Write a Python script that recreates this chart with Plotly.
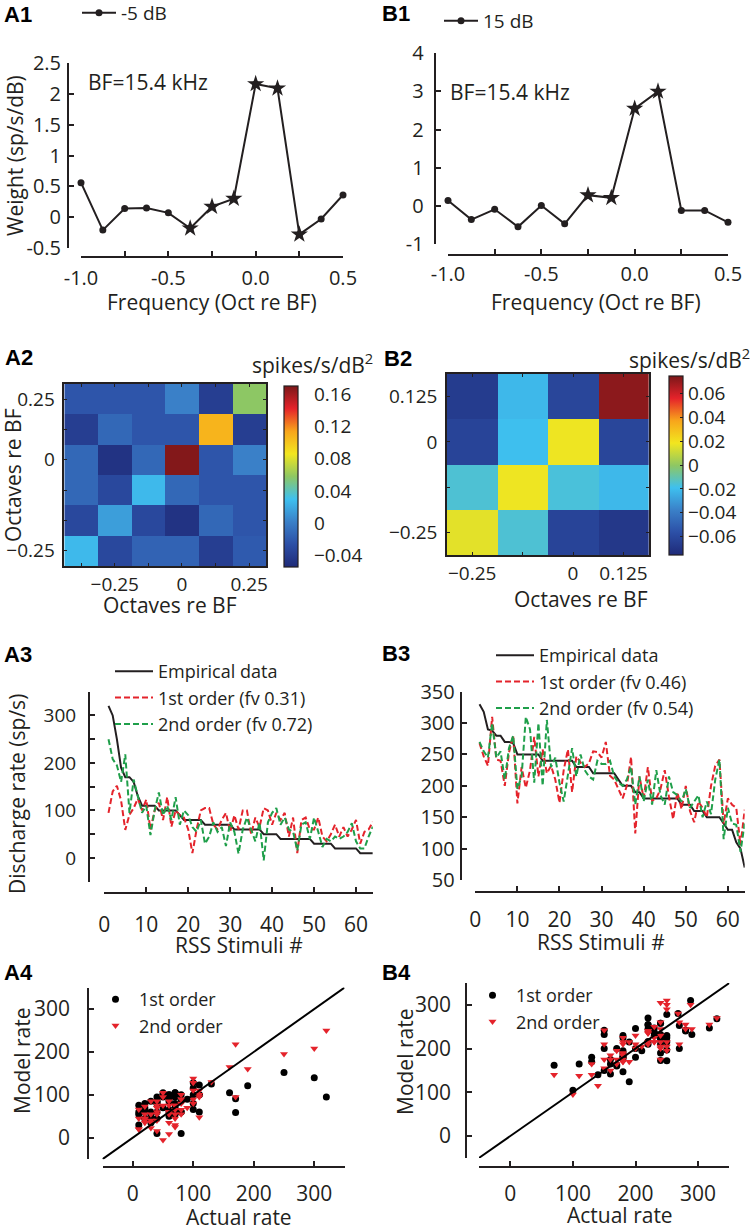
import plotly.graph_objects as go

W, H = 756, 1232
FONT = "Open Sans"
INK = "#231f20"
RED = "#e4232b"
GREEN = "#1f9f4a"

# A1 / B1: first-order spectral weights
oct_re_bf = [-1.0, -0.875, -0.75, -0.625, -0.5, -0.375, -0.25, -0.125, 0.0, 0.125, 0.25, 0.375, 0.5]
a1_weight = [0.56, -0.21, 0.14, 0.15, 0.07, -0.18, 0.17, 0.30, 2.16, 2.09, -0.28, -0.03, 0.36]
a1_star = [5, 6, 7, 8, 9, 10]          # significant weights
b1_weight = [0.14, -0.36, -0.09, -0.55, 0.01, -0.47, 0.28, 0.21, 2.55, 3.0, -0.12, -0.12, -0.43]
b1_star = [6, 7, 8, 9]

# A2 / B2: second-order weights (rows listed top to bottom)
a2_x = [-0.375, -0.25, -0.125, 0.0, 0.125, 0.25]
a2_y = [0.25, 0.125, 0.0, -0.125, -0.25, -0.375]
a2_z = [
    [-0.023, -0.023, -0.023, 0.002, -0.039, 0.058],
    [-0.039, -0.012, -0.023, -0.023, 0.108, -0.039],
    [-0.012, -0.048, -0.012, 0.169, -0.023, 0.002],
    [-0.012, -0.032, 0.027, -0.012, -0.023, -0.023],
    [-0.032, 0.015, -0.032, -0.048, -0.012, -0.023],
    [0.027, -0.032, -0.015, -0.015, -0.039, -0.020],
]
b2_x = [-0.25, -0.125, 0.0, 0.125]
b2_y = [0.125, 0.0, -0.125, -0.25]
b2_z = [
    [-0.066, -0.021, -0.061, 0.072],
    [-0.062, -0.019, 0.018, -0.061],
    [-0.015, 0.018, -0.016, -0.021],
    [0.016, -0.015, -0.062, -0.068],
]

# A3 / B3: rates for the 64 RSS stimuli (sorted by empirical rate)
stim = list(range(1, 65))
a3_emp = [320, 300, 250, 190, 170, 170, 160, 130,
          110, 110, 110, 110,
          100, 100, 100, 100, 100,
          90,
          80, 80, 80, 80, 80,
          70, 70, 70, 70, 70, 70, 70,
          60, 60, 60, 60, 60, 60, 60,
          50, 50, 50, 50,
          40, 40, 40, 40, 40, 40, 40, 40,
          30, 30, 30, 30, 30,
          20, 20, 20, 20, 20, 20,
          10, 10, 10, 10]
a3_first = [95, 140, 152, 121, 59, 91, 105, 125, 100, 123,
            60, 100, 116, 80, 128, 66, 100, 90, 85, 60,
            10, 60, 100, 105, 105, 70, 60, 80, 95, 55,
            90, 60, 100, 100, 50, 85, 65, 105, 100, 70,
            95, 80, 95, 45, 85, 10, 80, 85, 60, 60,
            85, 45, 35, 50, 70, 45, 65, 45, 60, 80,
            30, 55, 60, 76]
a3_second = [250, 208, 195, 160, 218, 95, 165, 130, 95, 110,
             48, 100, 138, 90, 110, 80, 128, 70, 100, 90,
             65, 55, 80, 30, 45, 75, 55, 65, 25, 75,
             55, 9, 60, 85, 60, 35, 75, -5, 75, 95,
             105, 70, 85, 60, 55, 16, 70, 75, 40, 85,
             55, 23, 40, 35, 45, 40, 45, 55, 73, 35,
             20, 20, 45, 66]
b3_emp = [330, 318, 290, 288, 280, 280, 270, 270, 268,
          250, 250, 250, 250, 250, 250,
          240, 240, 240, 240, 240, 240, 240, 240,
          230, 230, 230, 230,
          220, 220, 220, 220, 220, 220,
          210,
          200, 200, 200, 190, 190,
          180, 180, 180, 180, 180, 180, 180, 180, 180,
          170, 170, 170,
          160, 160, 160,
          150, 150, 150, 150,
          140, 130, 130, 110, 100, 70]
b3_first = [268, 247, 232, 310, 242, 240, 200, 253, 280, 172,
            230, 197, 225, 278, 215, 258, 220, 232, 210, 173,
            225, 258, 190, 247, 237, 230, 236, 255, 254, 245,
            270, 216, 210, 195, 180, 200, 246, 124, 215, 180,
            230, 176, 180, 195, 225, 183, 147, 190, 163, 200,
            160, 142, 175, 165, 150, 200, 232, 242, 140, 180,
            170, 165, 105, 162]
b3_second = [270, 255, 245, 300, 245, 255, 210, 260, 280, 195,
             215, 310, 290, 205, 300, 200, 305, 230, 245, 205,
             175, 215, 260, 215, 250, 225, 215, 210, 240, 235,
             235, 240, 215, 205, 200, 210, 230, 170, 215, 175,
             210, 170, 225, 185, 170, 215, 190, 185, 175, 195,
             165, 175, 185, 150, 175, 155, 210, 242, 115, 165,
             140, 138, 95, 140]
unity = [-50, 350]


def hx(px):
    return px / W


def vy(py):
    return 1 - py / H


def tf(size):
    return dict(family=FONT, size=size, color=INK)


def free_x(left, right, line_y, rng, vals, text, size=20, standoff=6):
    return dict(domain=[hx(left), hx(right)], range=rng, anchor="free", position=vy(line_y),
                showline=True, linewidth=2, linecolor=INK, ticks="inside", ticklen=5,
                tickwidth=1.5, tickcolor=INK, tickvals=vals, ticktext=text, tickfont=tf(size),
                ticklabelstandoff=standoff, showgrid=False, zeroline=False, fixedrange=True,
                automargin=False)


def free_y(bottom, top, line_x, rng, vals, text, size=20, standoff=3):
    return dict(domain=[vy(bottom), vy(top)], range=rng, anchor="free", position=hx(line_x),
                showline=True, linewidth=2, linecolor=INK, ticks="inside", ticklen=5,
                tickwidth=1.5, tickcolor=INK, tickvals=vals, ticktext=text, tickfont=tf(size),
                ticklabelstandoff=standoff, showgrid=False, zeroline=False, fixedrange=True,
                automargin=False)


def box_axis(lo, hi, rng, vals, text, anchor, horizontal):
    # lo/hi: left/right pixel for x, bottom/top pixel for y
    dom = [hx(lo), hx(hi)] if horizontal else [vy(lo), vy(hi)]
    return dict(domain=dom, range=rng, anchor=anchor, showline=True, mirror="ticks",
                linewidth=1.5, linecolor=INK, ticks="inside", ticklen=3, tickcolor=INK,
                tickvals=vals, ticktext=text, tickfont=tf(19), ticklabelstandoff=0 if horizontal else 4,
                showgrid=False, zeroline=False, fixedrange=True, automargin=False)


JET = [[0.0, "#1f2a78"], [0.125, "#2c4fa6"], [0.25, "#3a80c8"], [0.375, "#3ec0ef"],
       [0.5, "#8ec763"], [0.625, "#f2e61f"], [0.75, "#f8a51b"], [0.875, "#e5232a"],
       [1.0, "#7b1719"]]

fig = go.Figure()

# A1 / B1
for xa, ya, w, stars, name, leg in [("x", "y", a1_weight, a1_star, "-5 dB", "legend"),
                                    ("x2", "y2", b1_weight, b1_star, "15 dB", "legend2")]:
    fig.add_trace(go.Scatter(x=oct_re_bf, y=w, mode="lines+markers", name=name,
                             line=dict(color=INK, width=2), marker=dict(size=7, color=INK),
                             xaxis=xa, yaxis=ya, legend=leg, cliponaxis=False))
    fig.add_trace(go.Scatter(x=[oct_re_bf[i] for i in stars], y=[w[i] for i in stars],
                             mode="markers", marker=dict(symbol="star", size=13, color=INK),
                             xaxis=xa, yaxis=ya, showlegend=False, cliponaxis=False))

# A2 / B2 heatmaps
fig.add_trace(go.Heatmap(x=a2_x, y=a2_y, z=a2_z, colorscale=JET, zmin=-0.0546, zmax=0.171,
                         xaxis="x3", yaxis="y3",
                         colorbar=dict(x=hx(284), xanchor="left", xpad=0, ypad=0,
                                       y=vy(476.3), yanchor="middle", lenmode="pixels", len=180.7,
                                       thicknessmode="pixels", thickness=14.3,
                                       outlinewidth=1.2, outlinecolor=INK,
                                       tickvals=[-0.04, 0, 0.04, 0.08, 0.12, 0.16],
                                       ticktext=["\u22120.04", "0", "0.04", "0.08", "0.12", "0.16"],
                                       ticks="outside", ticklen=12, tickcolor="rgba(0,0,0,0)",
                                       tickfont=tf(19))))
fig.add_trace(go.Heatmap(x=b2_x, y=b2_y, z=b2_z, colorscale=JET, zmin=-0.075, zmax=0.075,
                         xaxis="x4", yaxis="y4",
                         colorbar=dict(x=hx(669), xanchor="left", xpad=0, ypad=0,
                                       y=vy(465), yanchor="middle", lenmode="pixels", len=178.6,
                                       thicknessmode="pixels", thickness=14,
                                       outlinewidth=1.2, outlinecolor=INK,
                                       tickvals=[-0.06, -0.04, -0.02, 0, 0.02, 0.04, 0.06],
                                       ticktext=["\u22120.06", "\u22120.04", "\u22120.02", "0",
                                                 "0.02", "0.04", "0.06"],
                                       ticks="inside", ticklen=3, tickcolor=INK,
                                       tickfont=tf(19))))

# A3 / B3 discharge rates
for xa, ya, emp, first, second, fv1, fv2, leg in [
        ("x5", "y5", a3_emp, a3_first, a3_second, "0.31", "0.72", "legend3"),
        ("x6", "y6", b3_emp, b3_first, b3_second, "0.46", "0.54", "legend4")]:
    fig.add_trace(go.Scatter(x=stim, y=emp, mode="lines", name="Empirical data",
                             line=dict(color=INK, width=2), xaxis=xa, yaxis=ya, legend=leg))
    fig.add_trace(go.Scatter(x=stim, y=first, mode="lines", name=f"1st order (fv {fv1})",
                             line=dict(color=RED, width=2, dash="6px,3px"),
                             xaxis=xa, yaxis=ya, legend=leg))
    fig.add_trace(go.Scatter(x=stim, y=second, mode="lines", name=f"2nd order (fv {fv2})",
                             line=dict(color=GREEN, width=2, dash="6px,3px"),
                             xaxis=xa, yaxis=ya, legend=leg))

# A4 / B4 model vs actual
for xa, ya, emp, first, second, leg in [("x7", "y7", a3_emp, a3_first, a3_second, "legend5"),
                                        ("x8", "y8", b3_emp, b3_first, b3_second, "legend6")]:
    fig.add_trace(go.Scatter(x=emp, y=first, mode="markers", name="1st order",
                             marker=dict(size=7, color="black"), xaxis=xa, yaxis=ya,
                             legend=leg, cliponaxis=False))
    fig.add_trace(go.Scatter(x=emp, y=second, mode="markers", name="2nd order",
                             marker=dict(size=7, color=RED, symbol="triangle-down"),
                             xaxis=xa, yaxis=ya, legend=leg, cliponaxis=False))
    fig.add_trace(go.Scatter(x=unity, y=unity, mode="lines", line=dict(color="black", width=2),
                             xaxis=xa, yaxis=ya, showlegend=False))

half = ["-1.0", "", "-0.5", "", "0.0", "", "0.5"]
quarters = [-1.0, -0.75, -0.5, -0.25, 0.0, 0.25, 0.5]
r50 = list(range(-50, 351, 50))
h100 = [str(v) if v % 100 == 0 and v >= 0 else "" for v in r50]
stim_ticks = list(range(0, 61, 10))
rate_ticks = [0, 100, 200, 300]


def legend(x, y, size=18, itemwidth=30):
    return dict(x=hx(x), y=vy(y), xanchor="left", yanchor="top", bgcolor="rgba(0,0,0,0)",
                borderwidth=0, font=tf(size), itemwidth=itemwidth, tracegroupgap=0)


fig.update_layout(
    template="none",
    width=W, height=H, margin=dict(l=0, r=0, t=0, b=0, autoexpand=False), autosize=False,
    paper_bgcolor="white", plot_bgcolor="white", font=tf(20),
    xaxis=free_x(81, 343, 257, [-1, 0.5], quarters, half, standoff=3),
    yaxis=free_y(248, 63, 68, [-0.5, 2.5], [-0.5, 0, 0.5, 1, 1.5, 2, 2.5],
                 ["-0.5", "0", "0.5", "1", "1.5", "2", "2.5"], standoff=2),
    xaxis2=free_x(448, 728, 255, [-1, 0.5], quarters, half, standoff=1),
    yaxis2=free_y(244, 53.3, 434.7, [-1, 4], [-1, 0, 1, 2, 3, 4],
                  ["-1", "0", "1", "2", "3", "4"], standoff=6),
    xaxis3=box_axis(64.3, 266, [-0.4375, 0.3125], a2_x, ["", "\u22120.25", "", "0", "", "0.25"], "y3", True),
    yaxis3=box_axis(566, 384, [-0.4375, 0.3125], a2_y, ["0.25", "", "0", "", "", "\u22120.25"], "x3", False),
    xaxis4=box_axis(447, 648.7, [-0.3125, 0.1875], b2_x, ["\u22120.25", "", "0", "0.125"], "y4", True),
    yaxis4=box_axis(555, 374, [-0.3125, 0.1875], b2_y, ["0.125", "0", "", "\u22120.25"], "x4", False),
    xaxis5=free_x(104.3, 372.8, 892.7, [0, 64], stim_ticks, [str(v) for v in stim_ticks], size=21, standoff=13),
    yaxis5=free_y(881.7, 691.7, 89, [-50, 350], r50, h100, size=19, standoff=8),
    xaxis6=free_x(475.3, 744.7, 891.7, [0, 64], stim_ticks, [str(v) for v in stim_ticks], size=21, standoff=9),
    yaxis6=free_y(880, 691.7, 460.7, [50, 350], list(range(50, 351, 50)),
                  [str(v) for v in range(50, 351, 50)], size=20, standoff=1),
    xaxis7=free_x(102.5, 344.5, 1166.7, [-50, 350], rate_ticks, [str(v) for v in rate_ticks], size=21, standoff=8),
    yaxis7=free_y(1159.2, 987.6, 88.3, [-50, 350], rate_ticks, [str(v) for v in rate_ticks], size=21, standoff=13),
    xaxis8=free_x(479, 729.4, 1166.7, [-50, 350], rate_ticks, [str(v) for v in rate_ticks], size=21, standoff=8),
    yaxis8=free_y(1157.9, 983, 466.3, [-50, 350], rate_ticks, [str(v) for v in rate_ticks], size=21, standoff=10),
    legend=legend(77, -6, size=19, itemwidth=34),
    legend2=legend(439, 2, size=19, itemwidth=34),
    legend3=legend(110, 653, itemwidth=38),
    legend4=legend(491, 637, itemwidth=38),
    legend5=legend(92, 981, itemwidth=37),
    legend6=legend(469, 977, itemwidth=37),
)

panels = [("A1", 2, 15), ("B1", 380, 14), ("A2", 3, 357), ("B2", 382, 358),
          ("A3", 2, 655), ("B3", 380, 653), ("A4", 2, 972), ("B4", 380, 972)]
for text, x, y in panels:
    fig.add_annotation(text=f"<b>{text}</b>", x=hx(x), y=vy(y), xref="paper", yref="paper",
                       xanchor="left", yanchor="middle", showarrow=False,
                       font=dict(family="Liberation Sans", size=22, color="black"))

labels = [
    ("Weight (sp/s/dB)", 15, 156, -90), ("Frequency (Oct re BF)", 212, 302, 0),
    ("Frequency (Oct re BF)", 596, 302, 0),
    ("spikes/s/dB<sup>2</sup>", 312, 363, 0), ("spikes/s/dB<sup>2</sup>", 689, 358, 0),
    ("Octaves re BF", 13, 475, -90), ("Octaves re BF", 170, 605, 0), ("Octaves re BF", 581, 599, 0),
    ("Discharge rate (sp/s)", 17, 794, -90), ("RSS Stimuli #", 239, 945, 0),
    ("RSS Stimuli #", 601, 942, 0),
    ("Model rate", 22, 1061, -90), ("Actual rate", 239, 1217, 0),
    ("Model rate", 405, 1062, -90), ("Actual rate", 620, 1215, 0),
]
for text, x, y, ang in labels:
    fig.add_annotation(text=text, x=hx(x), y=vy(y), xref="paper", yref="paper",
                       xanchor="center", yanchor="middle", showarrow=False, textangle=ang,
                       font=tf(21))

for x, y in [(86, 82), (448, 92)]:
    fig.add_annotation(text="BF=15.4 kHz", x=hx(x), y=vy(y), xref="paper", yref="paper",
                       xanchor="left", yanchor="middle", showarrow=False, font=tf(21))

# page body has a default 8px margin; drop it so the figure fills the window
fig.write_html("out.html", config={"displayModeBar": False},
               post_script="document.body.style.margin='0';")
